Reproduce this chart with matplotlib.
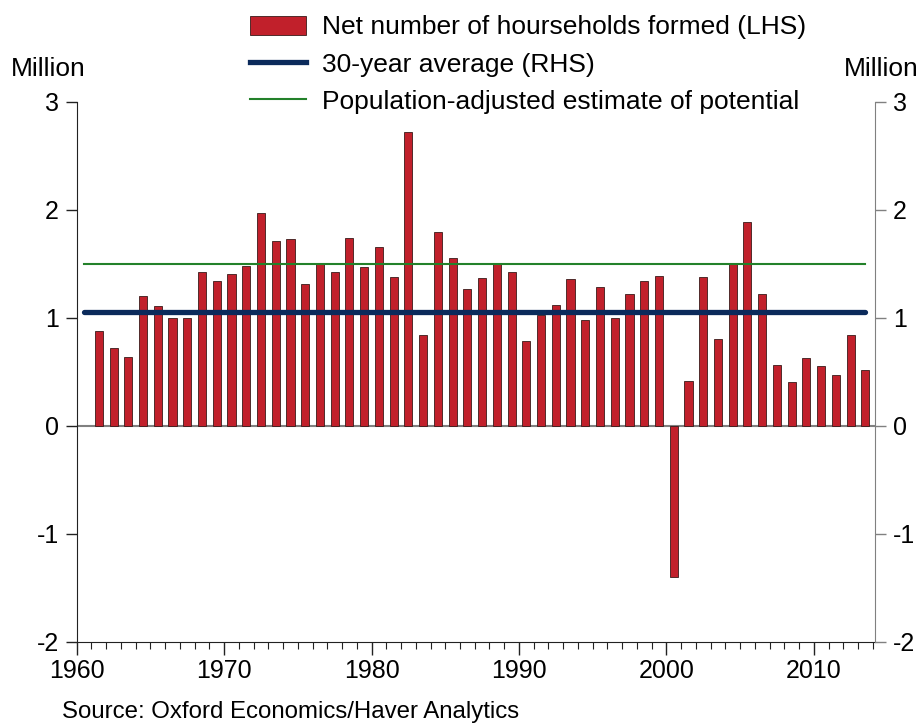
"""Net household formation vs 30-year average and population-adjusted potential."""
import matplotlib.pyplot as plt
from matplotlib.patches import Patch
from matplotlib.lines import Line2D
from matplotlib.ticker import MultipleLocator

plt.rcParams["font.family"] = ["Liberation Sans", "DejaVu Sans"]
plt.rcParams["axes.unicode_minus"] = False

# --- data (million households) ---
years = list(range(1961, 2014))
households = [
    0.88, 0.72, 0.64, 1.20, 1.11, 1.00, 1.00, 1.42, 1.34, 1.41,
    1.48, 1.97, 1.71, 1.73, 1.31, 1.51, 1.42, 1.74, 1.47, 1.66,
    1.38, 2.72, 0.84, 1.79, 1.55, 1.27, 1.37, 1.50, 1.42, 0.79,
    1.03, 1.12, 1.36, 0.98, 1.29, 1.00, 1.22, 1.34, 1.39, -1.40,
    0.42, 1.38, 0.80, 1.50, 1.89, 1.22, 0.56, 0.41, 0.63, 0.55,
    0.47, 0.84, 0.52,
]
avg_30yr = 1.05
potential = 1.5
labels = [
    "Net number of hourseholds formed (LHS)",
    "30-year average (RHS)",
    "Population-adjusted estimate of potential",
]

RED = "#C1202B"
NAVY = "#0B2A5B"
GREEN = "#23812A"
GREY = "#808080"
TICK_FS = 18
LEG_FS = 19

fig = plt.figure(figsize=(9.21, 7.27), dpi=100)
ax = fig.add_axes([0.0833, 0.117, 0.8667, 0.743])
ax2 = ax.twinx()

# bars sit in the middle of each year slot
xpos = [y + 0.5 for y in years]
ax.bar(xpos, households, width=0.55, color=RED, edgecolor="#3a1a1a",
       linewidth=0.6, zorder=2)
ax.axhline(0, color=GREY, linewidth=1.5, zorder=1)

x0, x1 = xpos[0] - 1.0, xpos[-1]
ax2.plot([x0, x1], [avg_30yr, avg_30yr], color=NAVY, linewidth=3.8,
         solid_capstyle="round")
ax2.plot([x0, x1], [potential, potential], color=GREEN, linewidth=1.5)

for a in (ax, ax2):
    a.set_ylim(-2, 3)
    a.set_xlim(1960, 2014.15)
    a.yaxis.set_major_locator(MultipleLocator(1))
    a.spines["top"].set_visible(False)
    a.tick_params(axis="y", labelsize=TICK_FS, length=8, width=1, pad=5)

ax.spines["left"].set_color("#222222")
ax.spines["bottom"].set_color("#222222")
ax.spines["right"].set_visible(False)
ax2.spines["left"].set_visible(False)
ax2.spines["bottom"].set_visible(False)
ax2.spines["right"].set_color(GREY)
ax2.tick_params(axis="y", colors=GREY, labelcolor="black")
ax.tick_params(axis="y", colors="#222222", labelcolor="black")

ax.xaxis.set_major_locator(MultipleLocator(10))
ax.xaxis.set_minor_locator(MultipleLocator(1))
ax.tick_params(axis="x", which="major", length=9, width=1, labelsize=TICK_FS,
               pad=3, colors="#222222", labelcolor="black")
ax.tick_params(axis="x", which="minor", length=5, width=0.8, colors="#222222")

fig.text(0.012, 0.905, "Million", fontsize=LEG_FS, ha="left", va="center")
fig.text(0.997, 0.905, "Million", fontsize=LEG_FS, ha="right", va="center")
fig.text(0.067, 0.021, "Source: Oxford Economics/Haver Analytics",
         fontsize=17.3, ha="left", va="center")

handles = [
    Patch(facecolor=RED, edgecolor="#3a1a1a", linewidth=0.6),
    Line2D([], [], color=NAVY, linewidth=3.8),
    Line2D([], [], color=GREEN, linewidth=1.5),
]
fig.legend(handles, labels, loc="upper left", bbox_to_anchor=(0.266, 0.986),
           frameon=False, fontsize=LEG_FS, handlelength=2.1, handleheight=0.76,
           handletextpad=0.62, labelspacing=0.5, borderaxespad=0.0,
           borderpad=0.2)

fig.savefig("out.png", dpi=100)
